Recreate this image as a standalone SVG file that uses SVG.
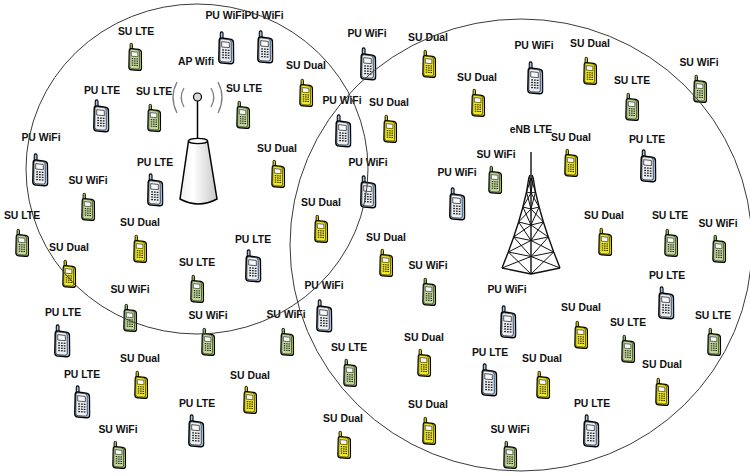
<svg xmlns="http://www.w3.org/2000/svg" xmlns:xlink="http://www.w3.org/1999/xlink" width="750" height="476" viewBox="0 0 750 476">
  <style>
    text { font-family: "Liberation Sans", Arial, sans-serif; font-weight: bold; font-size: 10.4px; fill: #111; text-anchor: middle; }
    .pu { --f: #eceff4; --s: #a3bfe3; }
    .sl { --f: #c3d99a; --s: #9cbc62; }
    .sd { --f: #f2ea1e; --s: #d6cc0c; }
    .pf { fill: var(--f); }
    .ps { fill: var(--s); }
    .area { fill: none; stroke: #3a3a3a; stroke-width: 1; }
    .wave { fill: none; stroke: #808080; stroke-width: 1.3; }
    .steel { fill: none; stroke: #111; stroke-width: 1; stroke-linejoin: round; }
  </style>
  <defs>
    <!-- handset icon; face and side colours come from custom properties set per class -->
    <symbol id="phone" viewBox="0 0 16 32">
      <rect class="ps" x="2.6" y="0.8" width="2.6" height="8" rx="1.3" stroke="#000" stroke-width="1"/>
      <path class="ps" d="M1.6,9 Q1.6,6.4 4.2,6.6 L12,7.6 Q15,8 15.1,11 L15.4,27.5 Q15.4,31 12.2,30.8 L4.4,30.2 Q1.2,30 1.2,27 Z" stroke="#000" stroke-width="1.3"/>
      <path class="pf" d="M2.4,9.2 Q2.4,7.3 4.3,7.4 L10.8,8.2 Q12.8,8.5 12.8,10.5 L13,27.3 Q13,29.4 11,29.3 L4.4,28.9 Q2.2,28.8 2.2,26.8 Z" stroke="#000" stroke-width="0.6"/>
      <path d="M3.9,10 L11.1,10.8 L11.2,15.7 L4,15.1 Z" fill="#f6f8fb" stroke="#000" stroke-width="0.6"/>
      <g fill="#222">
        <rect x="4.4" y="17.2" width="1.7" height="1.2"/><rect x="7" y="17.4" width="1.7" height="1.2"/><rect x="9.6" y="17.6" width="1.7" height="1.2"/>
        <rect x="4.4" y="19.6" width="1.7" height="1.2"/><rect x="7" y="19.8" width="1.7" height="1.2"/><rect x="9.6" y="20" width="1.7" height="1.2"/>
        <rect x="4.4" y="22" width="1.7" height="1.2"/><rect x="7" y="22.2" width="1.7" height="1.2"/><rect x="9.6" y="22.4" width="1.7" height="1.2"/>
        <rect x="4.4" y="24.4" width="1.7" height="1.2"/><rect x="7" y="24.6" width="1.7" height="1.2"/><rect x="9.6" y="24.8" width="1.7" height="1.2"/>
      </g>
    </symbol>
    <linearGradient id="coneFill" x1="0" y1="0" x2="1" y2="0">
      <stop offset="0" stop-color="#eeeeee"/>
      <stop offset="0.35" stop-color="#ffffff"/>
      <stop offset="1" stop-color="#c8c8c8"/>
    </linearGradient>
  </defs>

  <rect width="750" height="476" fill="#ffffff"/>

  <!-- WiFi access point -->
  <g id="ap-wifi">
    <text x="196" y="65">AP Wifi</text>
    <path class="wave" d="M177,82 Q169,97.5 177,113"/>
    <path class="wave" d="M218,82 Q226,97.5 218,113"/>
    <path class="wave" d="M184,88 Q178.5,97.5 184,107"/>
    <path class="wave" d="M211,88 Q216.5,97.5 211,107"/>
    <line x1="197.5" y1="101" x2="197.5" y2="141" stroke="#000" stroke-width="1.5"/>
    <circle cx="197.5" cy="97" r="4" fill="#d9d9d9" stroke="#000" stroke-width="1.2"/>
    <path d="M188.5,141 L180,199 Q198.5,209 217,199 L207.5,141 Z" fill="url(#coneFill)" stroke="#000" stroke-width="1.5"/>
    <ellipse cx="198" cy="141" rx="9.5" ry="2.6" fill="#fafafa" stroke="#000" stroke-width="1.2"/>
  </g>

  <!-- LTE base station (lattice tower) -->
  <g id="enb-lte">
    <text x="531" y="133">eNB LTE</text>
    <g class="steel">
      <line x1="531" y1="152" x2="531" y2="274" stroke-width="1.4"/>
      <polyline points="530,175 528.8,178 526.5,192 522.9,207 518.6,222 513.7,237 508.3,252 502,268" stroke-width="1.4"/>
      <polyline points="532,175 533.2,178 535.5,192 539.1,207 543.4,222 548.3,237 553.7,252 560,268" stroke-width="1.4"/>
      <polyline points="528.8,178 531,178.5 533.2,178"/>
      <polyline points="526.5,192 531,193 535.5,192"/>
      <polyline points="522.9,207 531,209 539.1,207"/>
      <polyline points="518.6,222 531,225 543.4,222"/>
      <polyline points="513.7,237 531,240.5 548.3,237"/>
      <polyline points="508.3,252 531,256.5 553.7,252"/>
      <polyline points="502,268 531,274 560,268" stroke-width="1.4"/>
      <path d="M528.8,178 L531,193 M531,178.5 L526.5,192 M533.2,178 L531,193 M531,178.5 L535.5,192"/>
      <path d="M526.5,192 L531,209 M531,193 L522.9,207 M535.5,192 L531,209 M531,193 L539.1,207"/>
      <path d="M522.9,207 L531,225 M531,209 L518.6,222 M539.1,207 L531,225 M531,209 L543.4,222"/>
      <path d="M518.6,222 L531,240.5 M531,225 L513.7,237 M543.4,222 L531,240.5 M531,225 L548.3,237"/>
      <path d="M513.7,237 L531,256.5 M531,240.5 L508.3,252 M548.3,237 L531,256.5 M531,240.5 L553.7,252"/>
      <path d="M508.3,252 L531,274 M531,256.5 L502,268 M553.7,252 L531,274 M531,256.5 L560,268"/>
    </g>
  </g>

  <!-- user equipment -->
  <g id="n01"><text x="136" y="35">SU LTE</text><use href="#phone" class="sl" x="127.75" y="42.5" width="14.5" height="29"/></g>
  <g id="n02"><text x="225" y="19">PU WiFi</text><use href="#phone" class="pu" x="217.5" y="31" width="17" height="34"/></g>
  <g id="n03"><text x="264" y="19">PU WiFi</text><use href="#phone" class="pu" x="256.5" y="30" width="17" height="34"/></g>
  <g id="n05"><text x="102" y="94">PU LTE</text><use href="#phone" class="pu" x="92.5" y="99" width="17" height="34"/></g>
  <g id="n06"><text x="154" y="95">SU LTE</text><use href="#phone" class="sl" x="146.75" y="103.5" width="14.5" height="29"/></g>
  <g id="n07"><text x="244" y="92">SU LTE</text><use href="#phone" class="sl" x="235.75" y="100.5" width="14.5" height="29"/></g>
  <g id="n08"><text x="306" y="69">SU Dual</text><use href="#phone" class="sd" x="298.75" y="78.5" width="14.5" height="29"/></g>
  <g id="n09"><text x="41" y="141">PU WiFi</text><use href="#phone" class="pu" x="31.5" y="153" width="17" height="34"/></g>
  <g id="n10"><text x="155" y="166">PU LTE</text><use href="#phone" class="pu" x="146.5" y="173" width="17" height="34"/></g>
  <g id="n11"><text x="88" y="184">SU WiFi</text><use href="#phone" class="sl" x="80.75" y="192.5" width="14.5" height="29"/></g>
  <g id="n12"><text x="277" y="152">SU Dual</text><use href="#phone" class="sd" x="270.75" y="159.5" width="14.5" height="29"/></g>
  <g id="n13"><text x="22" y="219">SU LTE</text><use href="#phone" class="sl" x="14.75" y="228.5" width="14.5" height="29"/></g>
  <g id="n14"><text x="140" y="226">SU Dual</text><use href="#phone" class="sd" x="132.75" y="234.5" width="14.5" height="29"/></g>
  <g id="n15"><text x="69" y="251">SU Dual</text><use href="#phone" class="sd" x="61.75" y="259.5" width="14.5" height="29"/></g>
  <g id="n16"><text x="253" y="243">PU LTE</text><use href="#phone" class="pu" x="244.5" y="249" width="17" height="34"/></g>
  <g id="n17"><text x="197" y="266">SU LTE</text><use href="#phone" class="sl" x="189.75" y="274.5" width="14.5" height="29"/></g>
  <g id="n18"><text x="130" y="293">SU WiFi</text><use href="#phone" class="sl" x="122.75" y="303.5" width="14.5" height="29"/></g>
  <g id="n19"><text x="63" y="316">PU LTE</text><use href="#phone" class="pu" x="53.5" y="324" width="17" height="34"/></g>
  <g id="n20"><text x="208" y="319">SU WiFi</text><use href="#phone" class="sl" x="200.75" y="327.5" width="14.5" height="29"/></g>
  <g id="n21"><text x="286" y="318">SU WiFi</text><use href="#phone" class="sl" x="279.75" y="327.5" width="14.5" height="29"/></g>
  <g id="n22"><text x="140" y="362">SU Dual</text><use href="#phone" class="sd" x="133.75" y="370.5" width="14.5" height="29"/></g>
  <g id="n23"><text x="82" y="378">PU LTE</text><use href="#phone" class="pu" x="73.5" y="385" width="17" height="34"/></g>
  <g id="n24"><text x="250" y="379">SU Dual</text><use href="#phone" class="sd" x="242.75" y="385.5" width="14.5" height="29"/></g>
  <g id="n25"><text x="197" y="407">PU LTE</text><use href="#phone" class="pu" x="187.5" y="414" width="17" height="34"/></g>
  <g id="n26"><text x="118" y="433">SU WiFi</text><use href="#phone" class="sl" x="111.75" y="440.5" width="14.5" height="29"/></g>
  <g id="n27"><text x="367" y="37">PU WiFi</text><use href="#phone" class="pu" x="359.5" y="47" width="17" height="34"/></g>
  <g id="n28"><text x="428" y="41">SU Dual</text><use href="#phone" class="sd" x="421.75" y="49.5" width="14.5" height="29"/></g>
  <g id="n29"><text x="477" y="81">SU Dual</text><use href="#phone" class="sd" x="470.75" y="88.5" width="14.5" height="29"/></g>
  <g id="n30"><text x="534" y="49">PU WiFi</text><use href="#phone" class="pu" x="526.5" y="61" width="17" height="34"/></g>
  <g id="n31"><text x="590" y="47">SU Dual</text><use href="#phone" class="sd" x="582.75" y="56.5" width="14.5" height="29"/></g>
  <g id="n32"><text x="632" y="84">SU LTE</text><use href="#phone" class="sl" x="624.75" y="92.5" width="14.5" height="29"/></g>
  <g id="n33"><text x="699" y="66">SU WiFi</text><use href="#phone" class="sl" x="692.75" y="74.5" width="14.5" height="29"/></g>
  <g id="n34"><text x="342" y="104">PU WiFi</text><use href="#phone" class="pu" x="334.5" y="114" width="17" height="34"/></g>
  <g id="n35"><text x="389" y="106">SU Dual</text><use href="#phone" class="sd" x="382.75" y="114.5" width="14.5" height="29"/></g>
  <g id="n36"><text x="368" y="166">PU WiFi</text><use href="#phone" class="pu" x="359.5" y="175" width="17" height="34"/></g>
  <g id="n38"><text x="571" y="141">SU Dual</text><use href="#phone" class="sd" x="563.75" y="148.5" width="14.5" height="29"/></g>
  <g id="n39"><text x="647" y="143">PU LTE</text><use href="#phone" class="pu" x="639.5" y="149" width="17" height="34"/></g>
  <g id="n40"><text x="496" y="158">SU WiFi</text><use href="#phone" class="sl" x="487.75" y="165.5" width="14.5" height="29"/></g>
  <g id="n41"><text x="457" y="176">PU WiFi</text><use href="#phone" class="pu" x="448.5" y="187" width="17" height="34"/></g>
  <g id="n42"><text x="321" y="206">SU Dual</text><use href="#phone" class="sd" x="313.75" y="214.5" width="14.5" height="29"/></g>
  <g id="n43"><text x="386" y="241">SU Dual</text><use href="#phone" class="sd" x="378.75" y="248.5" width="14.5" height="29"/></g>
  <g id="n44"><text x="428" y="269">SU WiFi</text><use href="#phone" class="sl" x="421.75" y="277.5" width="14.5" height="29"/></g>
  <g id="n45"><text x="324" y="289">PU WiFi</text><use href="#phone" class="pu" x="315.5" y="299" width="17" height="34"/></g>
  <g id="n46"><text x="507" y="293">PU WiFi</text><use href="#phone" class="pu" x="499.5" y="305" width="17" height="34"/></g>
  <g id="n47"><text x="604" y="219">SU Dual</text><use href="#phone" class="sd" x="597.75" y="227.5" width="14.5" height="29"/></g>
  <g id="n48"><text x="670" y="219">SU LTE</text><use href="#phone" class="sl" x="663.75" y="228.5" width="14.5" height="29"/></g>
  <g id="n49"><text x="718" y="227">SU WiFi</text><use href="#phone" class="sl" x="711.75" y="234.5" width="14.5" height="29"/></g>
  <g id="n50"><text x="667" y="279">PU LTE</text><use href="#phone" class="pu" x="657.5" y="286" width="17" height="34"/></g>
  <g id="n51"><text x="581" y="311">SU Dual</text><use href="#phone" class="sd" x="573.75" y="320.5" width="14.5" height="29"/></g>
  <g id="n52"><text x="628" y="326">SU LTE</text><use href="#phone" class="sl" x="620.75" y="334.5" width="14.5" height="29"/></g>
  <g id="n53"><text x="713" y="319">SU LTE</text><use href="#phone" class="sl" x="706.75" y="327.5" width="14.5" height="29"/></g>
  <g id="n54"><text x="349" y="351">SU LTE</text><use href="#phone" class="sl" x="342.75" y="358.5" width="14.5" height="29"/></g>
  <g id="n55"><text x="424" y="341">SU Dual</text><use href="#phone" class="sd" x="416.75" y="348.5" width="14.5" height="29"/></g>
  <g id="n56"><text x="490" y="356">PU LTE</text><use href="#phone" class="pu" x="480.5" y="363" width="17" height="34"/></g>
  <g id="n57"><text x="542" y="362">SU Dual</text><use href="#phone" class="sd" x="535.75" y="370.5" width="14.5" height="29"/></g>
  <g id="n58"><text x="662" y="368">SU Dual</text><use href="#phone" class="sd" x="654.75" y="377.5" width="14.5" height="29"/></g>
  <g id="n59"><text x="428" y="408">SU Dual</text><use href="#phone" class="sd" x="421.75" y="416.5" width="14.5" height="29"/></g>
  <g id="n60"><text x="343" y="422">SU Dual</text><use href="#phone" class="sd" x="336.75" y="430.5" width="14.5" height="29"/></g>
  <g id="n61"><text x="592" y="407">PU LTE</text><use href="#phone" class="pu" x="582.5" y="414" width="17" height="34"/></g>
  <g id="n62"><text x="510" y="433">SU WiFi</text><use href="#phone" class="sl" x="502.75" y="440.5" width="14.5" height="29"/></g>

  <!-- coverage areas -->
  <g id="coverage">
    <ellipse class="area" cx="197" cy="169" rx="171" ry="165"/>
    <ellipse class="area" cx="521" cy="245" rx="231" ry="226"/>
  </g>
</svg>
